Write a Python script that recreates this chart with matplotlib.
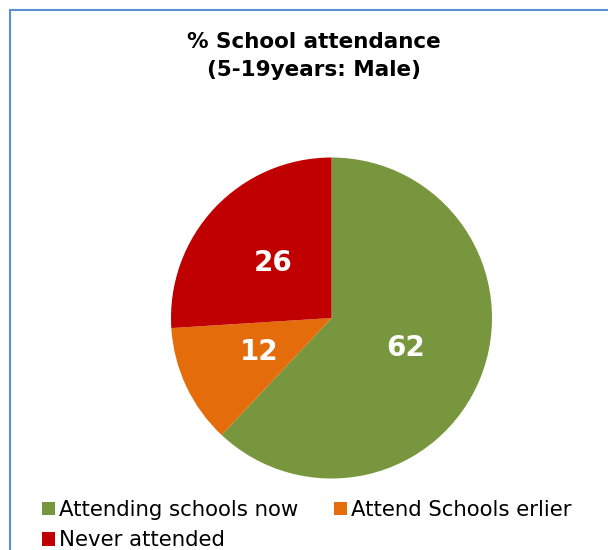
import matplotlib
matplotlib.use("Agg")
import matplotlib.pyplot as plt
from matplotlib.patches import Rectangle, Patch

categories = ["Attending schools now", "Attend Schools erlier", "Never attended"]
values = [62, 12, 26]
colors = ["#77963D", "#E46C0A", "#C00000"]
title = "% School attendance\n(5-19years: Male)"

W, H = 608, 550
fig = plt.figure(figsize=(W / 100, H / 100), dpi=100)

# frame (blue border on left/top, continuing past right/bottom edges)
fig.patches.append(Rectangle((9.5 / W, -0.1), 1.2, 1.1 - 9.5 / H, transform=fig.transFigure,
                             fill=False, edgecolor="#5B8FD6", linewidth=1.5))

cx, cy, r = 331.5, 318, 160.5
ax = fig.add_axes([(cx - r) / W, (H - cy - r) / H, 2 * r / W, 2 * r / H])
wedges, texts, autotexts = ax.pie(values, colors=colors, startangle=90, counterclock=False,
                                  autopct=lambda p: f"{p:.0f}", pctdistance=0.5,
                                  wedgeprops=dict(linewidth=0),
                                  textprops=dict(color="white", fontsize=20, fontweight="bold",
                                                 family="DejaVu Sans"))
ax.set_xlim(-1, 1)
ax.set_ylim(-1, 1)
ax.set_aspect("auto")
ax.axis("off")

fig.text(314 / W, 1 - 56 / H, title, ha="center", va="center", fontsize=15.5,
         fontweight="bold", family="DejaVu Sans", linespacing=1.45)

handles = [Patch(facecolor=c, edgecolor="none") for c in colors]
order = [0, 2, 1]
leg = fig.legend([handles[i] for i in order], [categories[i] for i in order],
                 ncol=2, loc="upper left", bbox_to_anchor=(42 / W, 1 - 500 / H),
                 frameon=False, fontsize=15.3, handlelength=0.62, handleheight=0.62,
                 handletextpad=0.19, columnspacing=1.65, labelspacing=0.48,
                 borderpad=0, borderaxespad=0)

fig.savefig("out.png", dpi=100, facecolor="white")
